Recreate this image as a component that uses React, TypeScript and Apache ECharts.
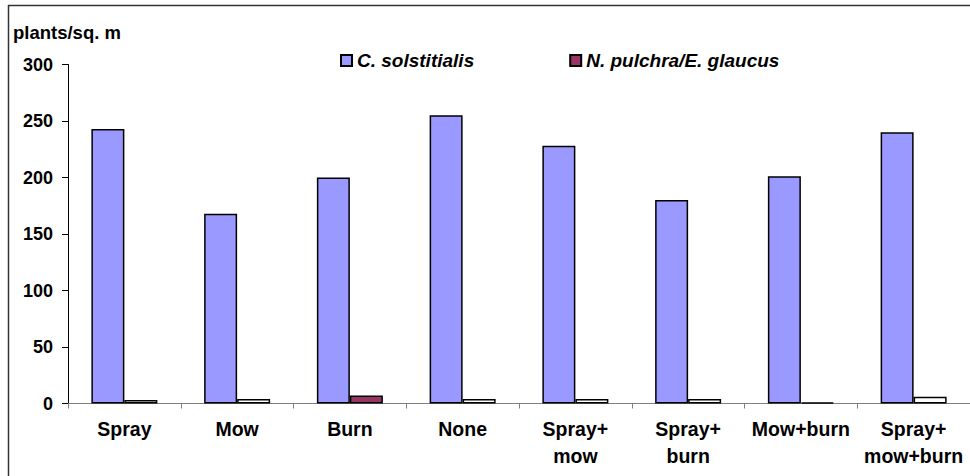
import React, { useEffect, useRef } from "react";
import * as echarts from "echarts";

const categories = [
  "Spray",
  "Mow",
  "Burn",
  "None",
  "Spray+\nmow",
  "Spray+\nburn",
  "Mow+burn",
  "Spray+\nmow+burn",
];
const solstitialis = [243, 168, 200, 255, 228, 180, 201, 240];
const pulchra = [3, 4, 7, 4, 4, 4, 1, 6];
const pulchraShaded = ["Burn"];
const yTicks = { min: 0, max: 300, interval: 50 };
const yTitle = "plants/sq. m";
const seriesNames = ["C. solstitialis", "N. pulchra/E. glaucus"];

const FONT = "'Liberation Sans', Arial, sans-serif";
const BLUE = "#9999FF";
const MAROON = "#993366";

export default function App() {
  const ref = useRef<HTMLDivElement>(null);
  useEffect(() => {
    if (!ref.current) return;
    const chart = echarts.init(ref.current, null, { renderer: "svg" });
    chart.setOption({
      animation: false,
      backgroundColor: "#ffffff",
      textStyle: { fontFamily: FONT },
      graphic: [
        {
          type: "line",
          shape: { x1: 8.5, y1: 5, x2: 8.5, y2: 476 },
          style: { stroke: "#333333", lineWidth: 1.5 },
          silent: true,
        },
        {
          type: "line",
          shape: { x1: 8, y1: 5.5, x2: 970, y2: 5.5 },
          style: { stroke: "#333333", lineWidth: 1.5 },
          silent: true,
        },
        {
          type: "text",
          left: 13,
          top: 23,
          style: {
            text: yTitle,
            fontFamily: FONT,
            fontWeight: "bold",
            fontSize: 18.5,
            fill: "#000",
          },
        },
      ],
      legend: {
        left: 335,
        top: 46,
        itemWidth: 11,
        itemHeight: 11,
        itemGap: 95,
        icon: "rect",
        textStyle: {
          fontFamily: FONT,
          fontWeight: "bold",
          fontStyle: "italic",
          fontSize: 19,
          color: "#000",
        },
        data: seriesNames,
      },
      grid: { left: 68, top: 64.5, width: 904, height: 339, containLabel: false },
      xAxis: {
        type: "category",
        data: categories,
        axisLine: { lineStyle: { color: "#808080", width: 1 } },
        axisTick: { show: true, length: 5, lineStyle: { color: "#808080" } },
        axisLabel: {
          interval: 0,
          fontFamily: FONT,
          fontWeight: "bold",
          fontSize: 19.5,
          color: "#000",
          lineHeight: 27,
          margin: 12,
          verticalAlign: "top",
        },
      },
      yAxis: {
        type: "value",
        min: yTicks.min,
        max: yTicks.max,
        interval: yTicks.interval,
        splitLine: { show: false },
        axisLine: { show: true, lineStyle: { color: "#000", width: 1 } },
        axisTick: { show: true, length: 6, lineStyle: { color: "#000" } },
        axisLabel: {
          fontFamily: FONT,
          fontWeight: "bold",
          fontSize: 18,
          color: "#000",
          margin: 15,
        },
      },
      series: [
        {
          name: seriesNames[0],
          type: "bar",
          data: solstitialis,
          barWidth: 33,
          barGap: "0%",
          itemStyle: { color: BLUE, borderColor: "#000", borderWidth: 1.5 },
        },
        {
          name: seriesNames[1],
          type: "bar",
          barWidth: 33,
          barGap: "0%",
          data: pulchra.map((v, i) => ({
            value: v,
            itemStyle: {
              color: pulchraShaded.includes(categories[i]) ? MAROON : "#ffffff",
            },
          })),
          itemStyle: { color: MAROON, borderColor: "#000", borderWidth: 1.5 },
        },
      ],
    });
    return () => chart.dispose();
  }, []);
  return (
    <div
      ref={ref}
      style={{
        position: "fixed",
        left: 0,
        top: 0,
        width: 970,
        height: 476,
        overflow: "hidden",
      }}
    />
  );
}
